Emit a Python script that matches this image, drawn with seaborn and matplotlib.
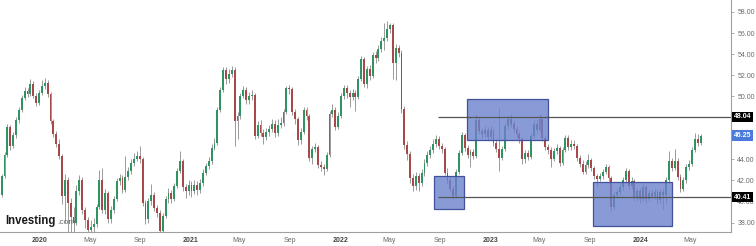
import numpy as np
import pandas as pd
import matplotlib
matplotlib.use("Agg")
import matplotlib.pyplot as plt
import matplotlib.dates as mdates
import matplotlib.transforms as mtransforms
from matplotlib.patches import Rectangle
import seaborn as sns

# ---------------- data (weekly candles) ----------------
first_week = "2019-09-23"

opens = [
    40.0, 40.6, 42.4, 44.4, 47.1, 45.3, 46.3, 47.7, 48.7, 49.8,
    50.5, 50.2, 51.2, 50.0, 49.4, 50.3, 51.0, 51.3, 50.2, 47.6,
    46.4, 45.5, 44.3, 40.5, 42.0, 39.9, 38.5, 38.0, 41.0, 42.0,
    39.2, 38.2, 37.3, 37.6, 37.9, 39.5, 42.0, 39.2, 40.8, 38.3,
    39.2, 40.2, 41.9, 42.2, 41.1, 42.3, 42.9, 43.7, 44.0, 44.3,
    44.0, 39.9, 38.3, 40.0, 40.6, 39.4, 38.9, 37.2, 38.6, 40.2,
    40.8, 40.2, 41.5, 42.9, 43.8, 41.4, 41.0, 41.6, 41.0, 41.6,
    41.1, 41.8, 42.7, 43.4, 43.8, 45.1, 45.6, 48.7, 50.6, 52.5,
    51.6, 52.1, 52.5, 47.6, 48.1, 50.0, 50.6, 49.6, 50.0, 50.1,
    46.2, 47.3, 46.5, 46.1, 46.6, 46.9, 47.4, 46.5, 47.3, 47.5,
    48.5, 50.8, 50.7, 48.5, 47.8, 45.8, 46.6, 48.7, 48.1, 44.1,
    45.0, 45.2, 43.5, 43.3, 43.1, 44.4, 48.3, 48.7, 47.1, 48.1,
    50.0, 50.8, 50.3, 49.9, 50.3, 49.9, 51.6, 53.5, 51.2, 52.6,
    51.9, 53.9, 53.6, 54.5, 55.2, 55.5, 56.4, 56.8, 53.2, 54.6,
    54.1, 48.8, 45.4, 44.5, 42.2, 41.5, 42.4, 41.8, 42.7, 43.7,
    44.4, 44.9, 45.5, 45.9, 45.3, 45.0, 42.7, 42.0, 41.2, 40.5,
    42.8, 44.6, 46.3, 45.1, 44.4, 44.7, 44.3, 47.7, 46.7, 46.4,
    46.8, 46.1, 46.8, 45.6, 45.0, 44.1, 45.0, 47.2, 47.8, 47.4,
    46.9, 46.4, 45.9, 44.0, 44.6, 44.2, 46.2, 47.4, 46.8, 47.8,
    46.0, 45.2, 44.9, 44.0, 44.8, 45.1, 43.7, 44.9, 46.0, 45.2,
    45.5, 45.3, 44.1, 43.6, 42.8, 43.5, 43.9, 43.2, 42.4, 42.1,
    42.4, 42.8, 43.3, 42.2, 39.5, 40.6, 40.9, 41.4, 42.0, 42.9,
    41.5, 41.9, 40.3, 41.0, 40.2, 41.4, 40.2, 40.8, 40.5, 40.9,
    40.1, 40.9, 40.6, 42.0, 43.8, 43.2, 43.8, 42.3, 41.2, 42.0,
    43.3, 43.6, 44.9, 45.9, 45.6,
]

closes = [
    40.6, 42.4, 44.4, 47.1, 45.3, 46.3, 47.7, 48.7, 49.8, 50.5,
    50.2, 51.2, 50.0, 49.4, 50.3, 51.0, 51.3, 50.2, 47.6, 46.4,
    45.5, 44.3, 40.5, 42.0, 39.9, 38.5, 38.0, 41.0, 42.0, 39.2,
    38.2, 37.3, 37.6, 37.9, 39.5, 42.0, 39.2, 40.8, 38.3, 39.2,
    40.2, 41.9, 42.2, 41.1, 42.3, 42.9, 43.7, 44.0, 44.3, 44.0,
    39.9, 38.3, 40.0, 40.6, 39.4, 38.9, 37.2, 38.6, 40.2, 40.8,
    40.2, 41.5, 42.9, 43.8, 41.4, 41.0, 41.6, 41.0, 41.6, 41.1,
    41.8, 42.7, 43.4, 43.8, 45.1, 45.6, 48.7, 50.6, 52.5, 51.6,
    52.1, 52.5, 47.6, 48.1, 50.0, 50.6, 49.6, 50.0, 50.1, 46.2,
    47.3, 46.5, 46.1, 46.6, 46.9, 47.4, 46.5, 47.3, 47.5, 48.5,
    50.8, 50.7, 48.5, 47.8, 45.8, 46.6, 48.7, 48.1, 44.1, 45.0,
    45.2, 43.5, 43.3, 43.1, 44.4, 48.3, 48.7, 47.1, 48.1, 50.0,
    50.8, 50.3, 49.9, 50.3, 49.9, 51.6, 53.5, 51.2, 52.6, 51.9,
    53.9, 53.6, 54.5, 55.2, 55.5, 56.4, 56.8, 53.2, 54.6, 54.1,
    48.8, 45.4, 44.5, 42.2, 41.5, 42.4, 41.8, 42.7, 43.7, 44.4,
    44.9, 45.5, 45.9, 45.3, 45.0, 42.7, 42.0, 41.2, 40.5, 42.8,
    44.6, 46.3, 45.1, 44.4, 44.7, 44.3, 47.7, 46.7, 46.4, 46.8,
    46.1, 46.8, 45.6, 45.0, 44.1, 45.0, 47.2, 47.8, 47.4, 46.9,
    46.4, 45.9, 44.0, 44.6, 44.2, 46.2, 47.4, 46.8, 47.8, 46.0,
    45.2, 44.9, 44.0, 44.8, 45.1, 43.7, 44.9, 46.0, 45.2, 45.5,
    45.3, 44.1, 43.6, 42.8, 43.5, 43.9, 43.2, 42.4, 42.1, 42.4,
    42.8, 43.3, 42.2, 39.5, 40.6, 40.9, 41.4, 42.0, 42.9, 41.5,
    41.9, 40.3, 41.0, 40.2, 41.4, 40.2, 40.8, 40.5, 40.9, 40.1,
    40.9, 40.6, 42.0, 43.8, 43.2, 43.8, 42.3, 41.2, 42.0, 43.3,
    43.6, 44.9, 45.9, 45.6, 46.25,
]

highs = [
    41.0, 42.6, 44.7, 47.4, 47.3, 46.6, 48.0, 49.0, 50.1, 50.9,
    50.8, 51.6, 51.4, 50.3, 50.6, 51.5, 51.7, 51.5, 50.4, 47.8,
    46.7, 45.9, 44.5, 42.6, 42.3, 40.3, 39.5, 41.6, 42.5, 42.3,
    39.5, 38.5, 38.2, 38.4, 39.8, 43.0, 43.2, 41.2, 41.0, 39.6,
    40.5, 42.2, 42.6, 42.5, 44.3, 43.3, 44.0, 44.6, 44.8, 45.3,
    44.2, 40.1, 40.3, 41.7, 40.9, 39.7, 39.2, 38.9, 40.5, 41.3,
    41.1, 41.8, 43.2, 44.8, 44.0, 41.7, 42.0, 41.9, 42.0, 41.9,
    42.1, 43.1, 43.7, 44.2, 45.5, 46.0, 49.0, 50.9, 52.8, 52.8,
    52.6, 52.9, 52.8, 48.5, 50.3, 51.0, 50.9, 50.4, 50.6, 50.3,
    47.6, 47.7, 46.9, 47.0, 47.3, 47.8, 47.7, 47.8, 48.0, 48.8,
    51.0, 51.1, 50.9, 48.8, 48.0, 47.0, 49.0, 49.0, 48.3, 45.3,
    45.6, 45.4, 43.8, 43.6, 44.7, 48.6, 49.3, 49.0, 48.5, 50.3,
    51.1, 51.1, 50.6, 50.7, 50.6, 51.9, 53.8, 53.7, 52.9, 53.0,
    54.2, 54.3, 54.9, 55.6, 57.0, 57.1, 57.0, 57.0, 55.0, 54.9,
    54.4, 49.1, 45.7, 44.8, 42.6, 42.8, 42.7, 43.1, 44.0, 44.8,
    45.3, 45.9, 46.3, 46.2, 45.6, 45.2, 43.2, 42.3, 41.5, 43.1,
    44.9, 46.6, 46.5, 45.4, 45.0, 45.0, 48.3, 48.0, 47.0, 47.2,
    47.1, 47.2, 47.0, 45.9, 48.9, 45.3, 47.5, 48.1, 48.3, 47.7,
    47.2, 46.7, 46.1, 44.9, 44.9, 46.5, 47.7, 47.7, 48.3, 48.0,
    46.3, 45.5, 45.2, 45.1, 45.5, 45.3, 45.2, 46.3, 46.3, 45.8,
    45.8, 45.5, 44.4, 43.9, 43.8, 44.5, 44.1, 43.4, 42.6, 42.7,
    43.1, 43.6, 43.5, 42.4, 40.9, 41.2, 41.7, 42.3, 43.2, 43.1,
    42.3, 42.1, 41.3, 41.3, 41.7, 41.6, 41.1, 41.1, 41.2, 41.2,
    41.2, 41.2, 42.3, 44.8, 44.1, 45.0, 44.1, 42.6, 42.3, 43.6,
    43.9, 45.2, 46.5, 46.4, 46.4,
]

lows = [
    39.6, 40.4, 42.2, 44.2, 44.9, 45.1, 46.0, 47.5, 48.5, 49.6,
    49.9, 50.0, 49.8, 49.1, 49.2, 50.1, 50.7, 49.9, 47.4, 46.1,
    45.2, 44.0, 39.8, 38.0, 37.0, 36.5, 36.5, 37.8, 40.6, 38.8,
    37.5, 36.5, 36.5, 37.0, 37.6, 39.3, 38.9, 38.8, 38.0, 38.0,
    38.9, 40.0, 41.6, 40.8, 40.9, 42.0, 42.6, 43.4, 43.8, 43.7,
    39.6, 37.9, 38.0, 39.7, 39.1, 38.5, 36.5, 36.9, 38.4, 39.9,
    39.9, 40.0, 41.3, 42.7, 41.0, 40.3, 40.6, 40.4, 40.7, 40.6,
    40.8, 41.5, 42.5, 43.1, 43.6, 44.9, 45.4, 48.5, 50.4, 51.2,
    51.3, 51.8, 45.3, 45.9, 47.8, 49.8, 49.3, 49.3, 49.6, 45.9,
    46.0, 46.2, 45.5, 45.8, 46.2, 46.6, 46.1, 46.2, 47.0, 47.2,
    48.3, 50.2, 48.2, 47.4, 45.4, 45.5, 46.4, 47.7, 43.8, 43.6,
    44.7, 43.2, 42.9, 42.5, 42.9, 44.2, 48.0, 46.8, 46.9, 47.9,
    49.7, 49.8, 49.0, 49.6, 48.6, 49.7, 51.4, 50.9, 50.8, 51.5,
    51.7, 53.2, 53.3, 54.2, 54.4, 55.2, 56.0, 51.6, 51.5, 53.7,
    48.4, 45.0, 43.9, 41.8, 41.0, 41.1, 41.0, 41.5, 42.4, 43.4,
    44.1, 44.6, 45.2, 45.0, 44.6, 42.5, 41.7, 40.9, 40.2, 40.3,
    42.6, 44.4, 44.8, 44.1, 43.3, 44.0, 44.1, 46.4, 46.0, 46.1,
    45.8, 45.9, 45.3, 44.7, 42.9, 43.9, 44.8, 46.9, 47.1, 46.6,
    46.1, 45.6, 43.6, 43.7, 43.9, 44.0, 46.0, 46.5, 46.6, 45.7,
    44.9, 44.5, 43.3, 43.8, 44.5, 43.4, 43.5, 44.7, 44.9, 44.9,
    45.0, 43.8, 43.3, 42.6, 42.6, 43.2, 42.9, 42.1, 41.5, 41.9,
    42.1, 42.6, 41.9, 39.1, 39.3, 40.3, 40.6, 41.1, 41.8, 41.2,
    41.2, 40.0, 40.1, 39.9, 40.0, 39.9, 40.0, 40.2, 40.2, 39.8,
    39.9, 39.3, 39.9, 41.8, 42.9, 43.0, 42.0, 40.9, 41.0, 41.8,
    43.0, 43.4, 44.7, 45.3, 45.4,
]

# support / resistance levels and highlighted zones
levels = [48.04, 40.41]
level_start = "2022-08-27"
last_price = 46.25
zones = [
    ("2022-08-17", "2022-10-29", 39.29, 42.42),
    ("2022-11-06", "2023-05-22", 45.84, 49.74),
    ("2023-09-08", "2024-03-19", 37.68, 41.86),
]
y_ticks = [38, 40, 42, 44, 46, 48, 50, 52, 54, 56, 58]
x_ticks = ["2020-01-01", "2020-05-01", "2020-09-01", "2021-01-01", "2021-05-01",
           "2021-09-01", "2022-01-01", "2022-05-01", "2022-09-01", "2023-01-01",
           "2023-05-01", "2023-09-01", "2024-01-01", "2024-05-01"]
x_labels = ["2020", "May", "Sep", "2021", "May", "Sep", "2022", "May", "Sep",
            "2023", "May", "Sep", "2024", "May"]

# ---------------- drawing ----------------
sns.set_theme(style="white")
plt.rcParams["font.family"] = ["Liberation Sans", "DejaVu Sans"]

df = pd.DataFrame({"open": opens, "high": highs, "low": lows, "close": closes})
df["date"] = pd.date_range(first_week, periods=len(df), freq="7D")
df["up"] = df["close"] >= df["open"]

fig = plt.figure(figsize=(7.56, 2.46), dpi=100)
ax = fig.add_axes([0.0, 14 / 246, 731 / 756, 232 / 246])

green = "#2f9461"
red = "#a8484a"
wick = "#9a9a9a"

dnum = mdates.date2num(df["date"])
ax.vlines(dnum, df["low"], df["high"], color=wick, lw=0.7, zorder=2)
body_bottom = np.minimum(df["open"], df["close"])
body_h = np.maximum(np.abs(df["close"] - df["open"]), 0.08)
cols = np.where(df["up"], green, red)
ax.bar(dnum, body_h, bottom=body_bottom, width=4.6, color=cols,
       edgecolor="none", zorder=3)

# zones
for d0, d1, y0, y1 in zones:
    x0 = mdates.date2num(pd.Timestamp(d0))
    x1 = mdates.date2num(pd.Timestamp(d1))
    ax.add_patch(Rectangle((x0, y0), x1 - x0, y1 - y0,
                           facecolor=(0.42, 0.51, 0.80, 0.80),
                           edgecolor="#42519a", lw=0.9, zorder=4))

# horizontal levels
xs = mdates.date2num(pd.Timestamp(level_start))
xe = mdates.date2num(pd.Timestamp("2024-08-09"))
for lv in levels:
    ax.hlines(lv, xs, xe, color="#555555", lw=0.9, zorder=5)

ax.set_xlim(mdates.date2num(pd.Timestamp("2019-09-26")), xe)
ax.set_ylim(37.1, 59.14)

# axes styling
for s in ["top", "left"]:
    ax.spines[s].set_visible(False)
for s in ["right", "bottom"]:
    ax.spines[s].set_color("#a0a0a0")
    ax.spines[s].set_linewidth(0.8)

ax.yaxis.tick_right()
ax.set_yticks(y_ticks)
# labels at 46 and 48 are fully hidden behind the price tags in the reference
ax.set_yticklabels(["" if v in (46, 48) else f"{v:.2f}" for v in y_ticks])
ax.tick_params(axis="y", direction="out", length=2.5, width=0.6, color="#a0a0a0",
               labelsize=5, labelcolor="#6a6a6a", pad=2)
ax.set_xticks(mdates.date2num(pd.to_datetime(x_ticks)))
ax.set_xticklabels(x_labels)
ax.tick_params(axis="x", direction="out", length=2, width=0.6, color="#a0a0a0",
               labelsize=5, labelcolor="#6a6a6a", pad=1.5)
for lab in ax.get_xticklabels():
    if lab.get_text().isdigit():
        lab.set_fontweight("bold")
        lab.set_color("#444444")
ax.grid(False)

# right-side price tags
trans = mtransforms.blended_transform_factory(ax.transAxes, ax.transData)
tags = [(levels[0], "black"), (last_price, "#4a7bdc"), (levels[1], "black")]
for val, fc in tags:
    ax.text(1.004, val, f"{val:.2f}", transform=trans, ha="left", va="center",
            fontsize=5, color="white", fontweight="bold", zorder=10, clip_on=False,
            bbox=dict(boxstyle="square,pad=0.25", facecolor=fc, edgecolor="none"))

# watermark logo
ax.text(0.007, 0.035, "Investing", transform=ax.transAxes, ha="left",
        va="baseline", fontsize=8.3, fontweight="bold", color="#1a1a1a", zorder=8)
ax.text(0.0785, 0.035, ".com", transform=ax.transAxes, ha="left",
        va="baseline", fontsize=6, color="#6a6a6a", zorder=8)

fig.savefig("out.png", dpi=100)
